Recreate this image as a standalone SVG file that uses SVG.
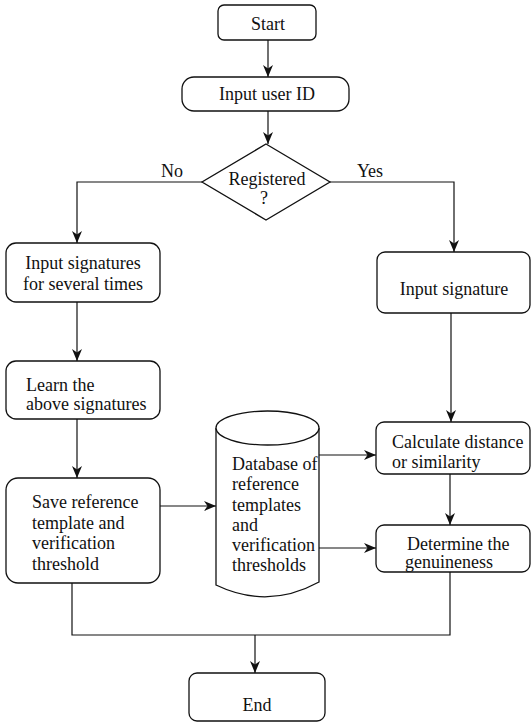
<svg xmlns="http://www.w3.org/2000/svg" width="531" height="723" viewBox="0 0 531 723">
<style>
.b{fill:#fff;stroke:#111;stroke-width:1.3}
.c{fill:none;stroke:#111;stroke-width:1.2}
text{font-family:'Liberation Serif','DejaVu Serif',serif;font-size:18px;fill:#111}
.m{text-anchor:middle}
</style>
<defs>
<marker id="a" viewBox="0 0 12 10" refX="12" refY="5" markerWidth="12" markerHeight="10" markerUnits="userSpaceOnUse" orient="auto">
<path d="M0,0 L12,5 L0,10 L3.5,5 z" fill="#111"/>
</marker>
</defs>
<rect width="531" height="723" fill="#fff"/>
<g id="connectors">
<line class="c" x1="268" y1="40" x2="268" y2="77" marker-end="url(#a)"/>
<line class="c" x1="268" y1="111" x2="268" y2="144" marker-end="url(#a)"/>
<polyline class="c" points="202,182 77,182 77,243" marker-end="url(#a)"/>
<polyline class="c" points="330,182 454,182 454,252" marker-end="url(#a)"/>
<line class="c" x1="77" y1="302" x2="77" y2="361" marker-end="url(#a)"/>
<line class="c" x1="77" y1="419" x2="77" y2="478" marker-end="url(#a)"/>
<line class="c" x1="160" y1="506" x2="216" y2="506" marker-end="url(#a)"/>
<line class="c" x1="451" y1="313" x2="451" y2="422" marker-end="url(#a)"/>
<line class="c" x1="319" y1="455" x2="376" y2="455" marker-end="url(#a)"/>
<line class="c" x1="319" y1="548" x2="376" y2="548" marker-end="url(#a)"/>
<line class="c" x1="450" y1="474" x2="450" y2="525" marker-end="url(#a)"/>
<polyline class="c" points="72,583 72,635 450,635 450,572"/>
<line class="c" x1="255" y1="635" x2="255" y2="673" marker-end="url(#a)"/>
<text x="172" y="177" class="m">No</text>
<text x="370" y="177" class="m">Yes</text>
</g>
<g id="start">
<rect class="b" x="218" y="5" width="98" height="35" rx="6"/>
<text x="268" y="30" class="m">Start</text>
</g>
<g id="input-user-id">
<rect class="b" x="182" y="77" width="167" height="34" rx="12"/>
<text x="267" y="100" class="m">Input user ID</text>
</g>
<g id="registered">
<polygon class="b" points="266,144 330,182 266,220 202,182"/>
<text x="267" y="185" class="m">Registered</text>
<text x="264" y="204" class="m">?</text>
</g>
<g id="input-signatures">
<rect class="b" x="6" y="243" width="154" height="59" rx="10"/>
<text x="83" y="269" class="m">Input signatures</text>
<text x="83" y="290" class="m">for several times</text>
</g>
<g id="learn">
<rect class="b" x="6" y="361" width="154" height="58" rx="10"/>
<text x="26" y="391">Learn the</text>
<text x="26" y="410">above signatures</text>
</g>
<g id="save">
<rect class="b" x="6" y="478" width="154" height="105" rx="12"/>
<text x="32" y="508">Save reference</text>
<text x="32" y="529">template and</text>
<text x="32" y="549">verification</text>
<text x="32" y="570">threshold</text>
</g>
<g id="database">
<path class="b" d="M216,428 L216,585 Q268,610 319,582 L319,428"/>
<ellipse class="b" cx="267.5" cy="428" rx="51.5" ry="17"/>
<text x="232" y="470">Database of</text>
<text x="232" y="490">reference</text>
<text x="232" y="511">templates</text>
<text x="232" y="531">and</text>
<text x="232" y="551">verification</text>
<text x="232" y="571">thresholds</text>
</g>
<g id="input-signature">
<rect class="b" x="377" y="252" width="153" height="61" rx="8"/>
<text x="454" y="295" class="m">Input signature</text>
</g>
<g id="calculate">
<rect class="b" x="376" y="422" width="154" height="52" rx="8"/>
<text x="392" y="448">Calculate distance</text>
<text x="392" y="468">or similarity</text>
</g>
<g id="determine">
<rect class="b" x="376" y="525" width="154" height="47" rx="8"/>
<text x="407" y="550">Determine the</text>
<text x="405" y="568">genuineness</text>
</g>
<g id="end">
<rect class="b" x="189" y="673" width="136" height="48" rx="8"/>
<text x="257" y="711" class="m">End</text>
</g>
</svg>
